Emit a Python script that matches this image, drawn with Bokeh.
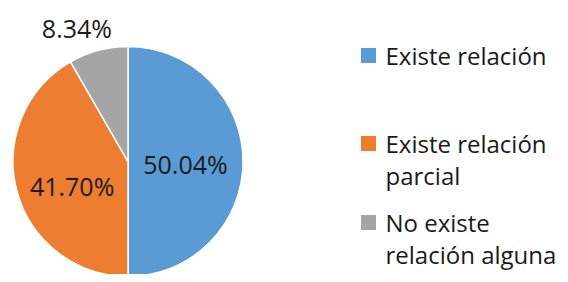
import math
from bokeh.plotting import figure
from bokeh.models import Range1d, ColumnDataSource
from bokeh.core.properties import value
from bokeh.embed import file_html
from bokeh.resources import INLINE

categories = ["Existe relación", "Existe relación\nparcial", "No existe\nrelación alguna"]
values = [50.04, 41.70, 8.34]
labels = ["50.04%", "41.70%", "8.34%"]
colors = ["#5B9BD5", "#ED7D31", "#A5A5A5"]

# layout / style
W, H = 560, 274
CX, CY, R = 127.5, 282 - 161, 115
label_r = [0.5, 0.53, 1.24]
label_nudge = [-2, 8.5, 6]  # degrees
FONT = "Open Sans"

p = figure(width=W, height=H, output_backend="svg", toolbar_location=None,
           x_range=Range1d(0, W), y_range=Range1d(282 - H, 282),
           min_border=0, outline_line_color=None)
p.axis.visible = False
p.grid.visible = False
p.background_fill_color = "white"
p.border_fill_color = "white"

total = sum(values)
starts, ends, lx, ly = [], [], [], []
cum = 0.0
for i, v in enumerate(values):
    a0 = math.pi / 2 - 2 * math.pi * cum / total
    cum += v
    a1 = math.pi / 2 - 2 * math.pi * cum / total
    starts.append(a0)
    ends.append(a1)
    mid = (a0 + a1) / 2 + math.radians(label_nudge[i])
    lx.append(CX + label_r[i] * R * math.cos(mid))
    ly.append(CY + label_r[i] * R * math.sin(mid))

src = ColumnDataSource(dict(start=starts, end=ends, color=colors))
p.wedge(x=CX, y=CY, radius=R, radius_units="screen", start_angle="start",
        end_angle="end", direction="clock", fill_color="color",
        line_color="white", line_width=1.5, source=src)

p.text(x=lx, y=ly, text=labels, text_font=value(FONT), text_font_size="25px",
       text_align="center", text_baseline="middle", text_color="#1a1a1a")

# legend
sq_x = 368
entry_y = [282 - 55, 282 - 143, 282 - 222]
line_h = 32
p.scatter(x=[sq_x] * 3, y=entry_y, marker="square", size=15,
          fill_color=colors, line_color=None)
tx, ty, tt = [], [], []
for cat, y in zip(categories, entry_y):
    for j, line in enumerate(cat.split("\n")):
        tx.append(385)
        ty.append(y - j * line_h)
        tt.append(line)
p.text(x=tx, y=ty, text=tt, text_font=value(FONT), text_font_size="24px",
       text_align="left", text_baseline="middle", text_color="#1a1a1a")

open("out.html", "w").write(file_html(p, INLINE))
